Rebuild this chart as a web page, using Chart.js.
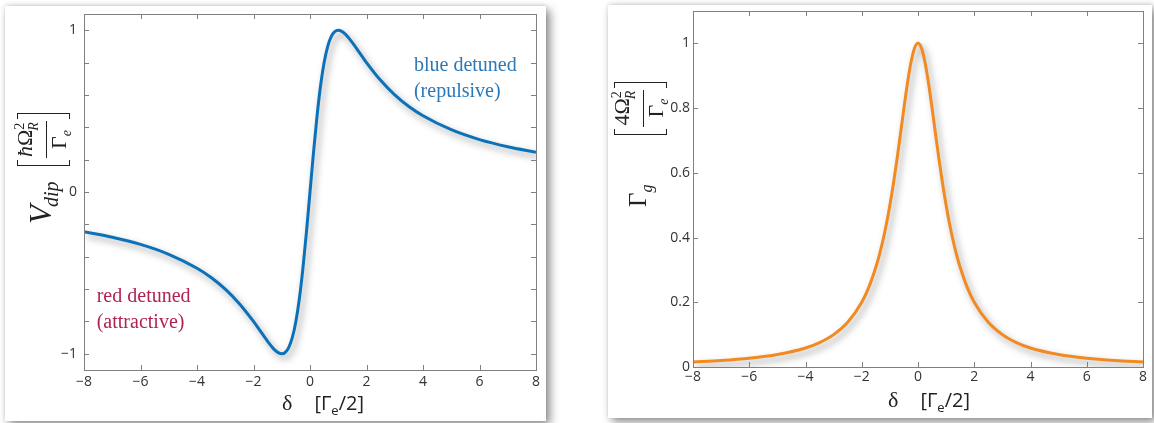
<!DOCTYPE html>
<html>
<head>
<meta charset="utf-8">
<script src="https://cdn.jsdelivr.net/npm/chart.js@4.4.1/dist/chart.umd.min.js"></script>
<style>
  body { margin: 0; background: #fff; width: 1154px; height: 423px; position: relative; overflow: hidden; }
  .card { position: absolute; background: #fff; box-shadow: 4px 4px 9px rgba(0,0,0,0.45), 0 -1px 4px rgba(0,0,0,0.12); }
  .card canvas { position: absolute; left: 0; top: 0; }
  .ttl { position: absolute; color: #222; white-space: nowrap; }
  .serif { font-family: "Liberation Serif", "DejaVu Serif", serif; }
  .sans { font-family: "Open Sans", "Noto Sans", sans-serif; }
  .brk { display: inline-block; vertical-align: middle; border: 1.6px solid #222; border-right: none; width: 5px; height: 51px; }
  .brk.r { border-left: none; border-right: 1.6px solid #222; }
  .frac { display: inline-block; vertical-align: middle; text-align: center; font-family: "Liberation Serif", serif; font-size: 22px; line-height: 24px; margin: 0 2px; }
  .frac .num { border-bottom: 1.3px solid #222; padding: 0 1px; }
  .rot { transform: rotate(-90deg); transform-origin: left top; }
</style>
</head>
<body>
<div class="card" id="cardL" style="left:5px; top:6px; width:541px; height:415px;">
  <canvas id="chartL" width="541" height="415"></canvas>
</div>
<div class="card" id="cardR" style="left:608px; top:5px; width:544px; height:413px;">
  <canvas id="chartR" width="544" height="413"></canvas>
</div>

<!-- y axis titles -->
<div class="ttl rot serif" style="left:8px; top:224px; font-size:31px;">
  <i>V</i><sub style="font-size:20px; margin-left:-2px;"><i>dip</i></sub>&nbsp;&nbsp;<span class="brk"></span><span class="frac"><div class="num"><i>ħ</i>Ω<sup style="font-size:14px;">2</sup><sub style="font-size:14px; margin-left:-8px;"><i>R</i></sub></div><div>Γ<sub style="font-size:14px;"><i>e</i></sub></div></span><span class="brk r"></span>
</div>
<div class="ttl rot serif" style="left:605px; top:207px; font-size:25px;">
  Γ<sub style="font-size:16px;"><i>g</i></sub>&nbsp;&nbsp;&nbsp;&nbsp;&nbsp;&nbsp;&nbsp;&nbsp;<span class="brk"></span><span class="frac"><div class="num">4Ω<sup style="font-size:14px;">2</sup><sub style="font-size:14px; margin-left:-8px;"><i>R</i></sub></div><div>Γ<sub style="font-size:14px;"><i>e</i></sub></div></span><span class="brk r"></span>
</div>

<!-- x axis titles -->
<div class="ttl" style="left:282px; top:389px; font-size:22px;">
  <span class="serif">δ&nbsp;&nbsp;&nbsp;&nbsp;</span><span class="sans" style="font-size:20px;">[Γ<sub style="font-size:13px;">e</sub>/2]</span>
</div>
<div class="ttl" style="left:888px; top:386px; font-size:22px;">
  <span class="serif">δ&nbsp;&nbsp;&nbsp;&nbsp;</span><span class="sans" style="font-size:20px;">[Γ<sub style="font-size:13px;">e</sub>/2]</span>
</div>

<script>
// detuning points (units of Gamma_e / 2)
const delta = [-8, -7, -6, -5, -4, -3.5, -3, -2.5, -2, -1.75, -1.5, -1.375, -1.25, -1.125, -1,
  -0.875, -0.75, -0.625, -0.5, -0.375, -0.25, -0.125, 0,
  0.125, 0.25, 0.375, 0.5, 0.625, 0.75, 0.875, 1,
  1.125, 1.25, 1.375, 1.5, 1.75, 2, 2.5, 3, 3.5, 4, 5, 6, 7, 8];

// dipole potential
const vdip = [-0.246, -0.28, -0.324, -0.385, -0.471, -0.528, -0.6, -0.69, -0.8, -0.862, -0.923, -0.951, -0.976, -0.993, -1,
  -0.991, -0.96, -0.899, -0.8, -0.658, -0.471, -0.246, 0,
  0.246, 0.471, 0.658, 0.8, 0.899, 0.96, 0.991, 1,
  0.993, 0.976, 0.951, 0.923, 0.862, 0.8, 0.69, 0.6, 0.528, 0.471, 0.385, 0.324, 0.28, 0.246];

// scattering rate
const gammaG = [0.0154, 0.02, 0.027, 0.0385, 0.0588, 0.0755, 0.1, 0.138, 0.2, 0.246, 0.308, 0.346, 0.39, 0.441, 0.5,
  0.566, 0.64, 0.719, 0.8, 0.877, 0.941, 0.985, 1,
  0.985, 0.941, 0.877, 0.8, 0.719, 0.64, 0.566, 0.5,
  0.441, 0.39, 0.346, 0.308, 0.246, 0.2, 0.138, 0.1, 0.0755, 0.0588, 0.0385, 0.027, 0.02, 0.0154];

const xTicks = [-8, -6, -4, -2, 0, 2, 4, 6, 8];
const leftYTicks = [-1, -0.8, -0.6, -0.4, -0.2, 0, 0.2, 0.4, 0.6, 0.8, 1];
const leftYLabels = [-1, 0, 1];
const rightYTicks = [0, 0.2, 0.4, 0.6, 0.8, 1];

const notesL = [
  { text: "blue detuned", x: 3.68, y: 0.78, color: "#2a78b8" },
  { text: "(repulsive)", x: 3.68, y: 0.62, color: "#2a78b8" },
  { text: "red detuned", x: -7.55, y: -0.65, color: "#b02450" },
  { text: "(attractive)", x: -7.55, y: -0.81, color: "#b02450" }
];

const minus = (v) => String(v).replace("-", "\u2212");

// box round the plot with ticks pointing inward, matlab style
const boxTicks = {
  id: "boxTicks",
  afterDraw(chart) {
    const { ctx, chartArea: a, scales } = chart;
    ctx.save();
    ctx.strokeStyle = "#808080";
    ctx.lineWidth = 1;
    ctx.strokeRect(a.left + 0.5, a.top + 0.5, a.right - a.left, a.bottom - a.top);
    ctx.beginPath();
    scales.x.ticks.forEach((t) => {
      const px = Math.round(scales.x.getPixelForValue(t.value)) + 0.5;
      ctx.moveTo(px, a.top); ctx.lineTo(px, a.top + 5);
      ctx.moveTo(px, a.bottom); ctx.lineTo(px, a.bottom - 5);
    });
    scales.y.ticks.forEach((t) => {
      const py = Math.round(scales.y.getPixelForValue(t.value)) + 0.5;
      ctx.moveTo(a.left, py); ctx.lineTo(a.left + 5, py);
      ctx.moveTo(a.right, py); ctx.lineTo(a.right - 5, py);
    });
    ctx.stroke();
    ctx.restore();
  }
};

// soft drop shadow under the curve
const curveShadow = {
  id: "curveShadow",
  beforeDatasetsDraw(chart) {
    const ctx = chart.ctx;
    ctx.save();
    ctx.shadowColor = "rgba(0,0,0,0.38)";
    ctx.shadowBlur = 7;
    ctx.shadowOffsetX = 3;
    ctx.shadowOffsetY = 4;
  },
  afterDatasetsDraw(chart) {
    chart.ctx.restore();
  }
};

const notes = {
  id: "notes",
  afterDatasetsDraw(chart, args, opts) {
    const { ctx, scales } = chart;
    (opts.items || []).forEach((n) => {
      ctx.save();
      ctx.font = '20px "Liberation Serif", serif';
      ctx.fillStyle = n.color;
      ctx.textBaseline = "middle";
      ctx.fillText(n.text, scales.x.getPixelForValue(n.x), scales.y.getPixelForValue(n.y));
      ctx.restore();
    });
  }
};

const tickFont = { family: '"Open Sans", "Noto Sans", sans-serif', size: 14 };

const makeChart = (id, values, color, yMin, yMax, yTicks, yLabelFn, dims, items) => {
  const points = delta.map((d, i) => ({ x: d, y: values[i] }));
  return new Chart(document.getElementById(id), {
    type: "line",
    data: {
      datasets: [{
        data: points,
        borderColor: color,
        borderWidth: 3,
        pointRadius: 0,
        cubicInterpolationMode: "monotone",
        fill: false
      }]
    },
    options: {
      responsive: false,
      animation: false,
      devicePixelRatio: 1,
      layout: { padding: { top: dims.top, right: dims.right, left: 0, bottom: 0 } },
      plugins: { legend: { display: false }, tooltip: { enabled: false }, notes: { items: items } },
      scales: {
        x: {
          type: "linear", min: -8, max: 8,
          grid: { display: false, drawTicks: false },
          border: { display: false },
          afterBuildTicks: (s) => { s.ticks = xTicks.map((v) => ({ value: v })); },
          afterFit: (s) => { s.height = dims.xh; s.paddingLeft = 0; s.paddingRight = 0; },
          ticks: { autoSkip: false, maxRotation: 0, padding: dims.xpad, color: "#333", font: tickFont, callback: (v) => minus(v) }
        },
        y: {
          min: yMin, max: yMax,
          grid: { display: false, drawTicks: false },
          border: { display: false },
          afterBuildTicks: (s) => { s.ticks = yTicks.map((v) => ({ value: v })); },
          afterFit: (s) => { s.width = dims.yw; s.paddingTop = 0; s.paddingBottom = 0; },
          ticks: { autoSkip: false, padding: dims.ypad, color: "#333", font: tickFont, callback: yLabelFn }
        }
      }
    },
    plugins: [curveShadow, notes, boxTicks]
  });
};

makeChart("chartL", vdip, "#0b72b9", -1.1, 1.1, leftYTicks,
  (v) => (leftYLabels.includes(v) ? minus(v) : ""),
  { top: 8, right: 10, xh: 51, yw: 79, xpad: 4, ypad: 7 }, notesL);

makeChart("chartR", gammaG, "#f18a22", 0, 1.1, rightYTicks,
  (v) => String(v),
  { top: 6, right: 9, xh: 51, yw: 85, xpad: 2, ypad: 3 }, []);
</script>
</body>
</html>
